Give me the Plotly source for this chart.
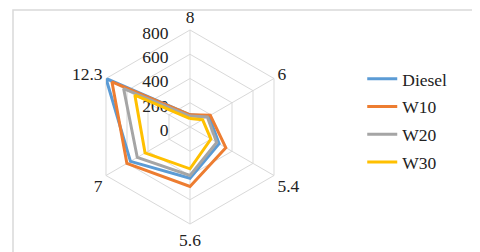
import plotly.graph_objects as go

categories = ["8", "6", "5.4", "5.6", "7", "12.3"]
diesel = [100, 180, 277, 422, 567, 800]
w10 = [100, 193, 341, 491, 601, 743]
w20 = [90, 165, 254, 400, 502, 632]
w30 = [70, 120, 199, 345, 428, 525]
series_names = ["Diesel", "W10", "W20", "W30"]
series_colors = ["#5B9BD5", "#ED7D31", "#A5A5A5", "#FFC000"]
radial_ticks = [0, 200, 400, 600, 800]

FONT = "Liberation Serif"
FS = 17.5
fig = go.Figure()
for name, vals, col in zip(series_names, [diesel, w10, w20, w30], series_colors):
    fig.add_trace(go.Scatterpolar(
        r=vals + vals[:1], theta=categories + categories[:1],
        mode="lines", name=name, line=dict(color=col, width=3),
        legendgroup=name,
    ))

cx, cy, R = 182, 119, 97
W, H = 480, 252
fig.update_layout(
    width=W, height=H, margin=dict(l=0, r=0, t=0, b=0),
    paper_bgcolor="white", plot_bgcolor="white",
    font=dict(family=FONT, size=FS, color="#222"),
    polar=dict(
        domain=dict(x=[(cx - R) / W, (cx + R) / W], y=[(H - cy - R) / H, (H - cy + R) / H]),
        gridshape="linear", bgcolor="white",
        radialaxis=dict(range=[0, 800], tickvals=radial_ticks,
                        ticktext=[f"{v}\u00a0\u00a0" for v in radial_ticks],
                        angle=90, side="counterclockwise", layer="below traces",
                        showline=False, gridcolor="#D9D9D9", gridwidth=1, ticks="",
                        tickfont=dict(family=FONT, size=FS, color="#222")),
        angularaxis=dict(type="category", categoryarray=categories, direction="clockwise", rotation=90,
                         gridcolor="#D9D9D9", linecolor="#D9D9D9", ticks="", layer="below traces",
                         tickfont=dict(family=FONT, size=FS, color="#222")),
    ),
    legend=dict(x=0.738, y=0.79, xanchor="left", yanchor="top", tracegroupgap=2,
                font=dict(family=FONT, size=FS, color="#222"), bgcolor="rgba(0,0,0,0)"),
    shapes=[dict(type="rect", xref="paper", yref="paper", x0=5 / W, x1=468 / W, y0=(H - 247) / H, y1=(H - 2) / H,
                 line=dict(color="#D9D9D9", width=1.5))],
)
fig.write_html("out.html")
